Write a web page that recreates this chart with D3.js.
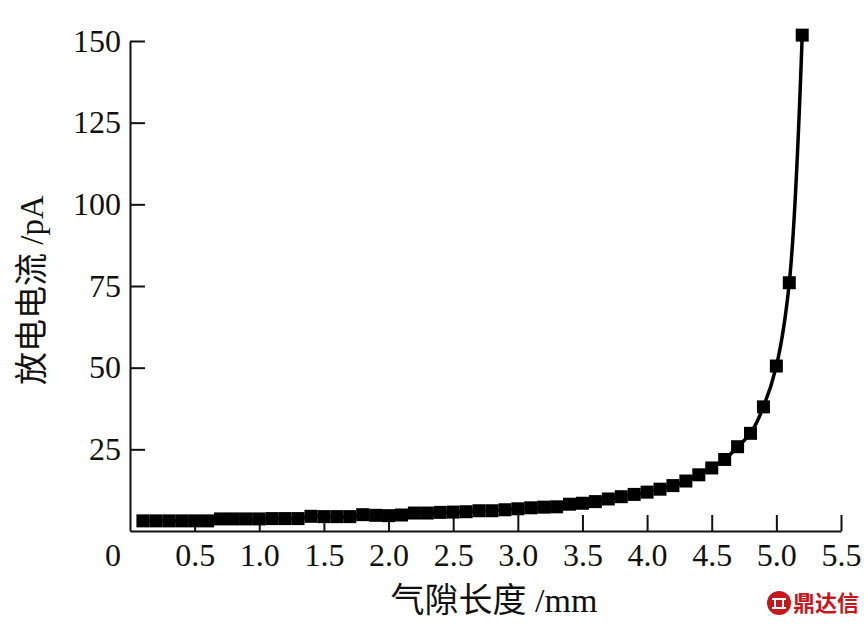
<!DOCTYPE html>
<html>
<head>
<meta charset="utf-8">
<script src="https://cdn.jsdelivr.net/npm/d3@7/dist/d3.min.js"></script>
<style>
  html, body { margin: 0; padding: 0; background: #fff; }
  svg { display: block; }
  .tick text { font-family: "Liberation Serif", "Times New Roman", serif; font-size: 32px; fill: #111; }
</style>
</head>
<body>
<svg id="chart" width="868" height="626"></svg>
<script>
// ---- data ----
const gapLength = [0.1,0.2,0.3,0.4,0.5,0.6,0.7,0.8,0.9,1.0,1.1,1.2,1.3,1.4,1.5,1.6,1.7,1.8,1.9,2.0,
  2.1,2.2,2.3,2.4,2.5,2.6,2.7,2.8,2.9,3.0,3.1,3.2,3.3,3.4,3.5,3.6,3.7,3.8,3.9,4.0,
  4.1,4.2,4.3,4.4,4.5,4.6,4.7,4.8,4.9,5.0,5.1,5.2];
const dischargeCurrent = [3.1,3.1,3.1,3.1,3.1,3.1,3.7,3.7,3.7,3.7,3.8,3.8,3.8,4.5,4.4,4.4,4.4,5.0,4.8,4.7,
  4.9,5.5,5.5,5.7,5.8,5.9,6.2,6.2,6.5,6.8,7.1,7.3,7.4,8.2,8.5,9.0,9.8,10.5,11.2,11.9,
  12.8,13.9,15.3,17.2,19.3,21.9,25.8,29.9,38.0,50.5,76.0,151.8];
const xTicks = [0.5,1.0,1.5,2.0,2.5,3.0,3.5,4.0,4.5,5.0,5.5];
const yTicks = [25,50,75,100,125,150];
const xTitle = "气隙长度 /mm";
const yTitle = "放电电流 /pA";
const watermark = "鼎达信";

const svg = d3.select("#chart");
const x = d3.scaleLinear().domain([0, 5.5]).range([130, 841]);
const y = d3.scaleLinear().domain([0, 150]).range([531, 41]);

const data = gapLength.map((g, i) => ({ g, c: dischargeCurrent[i] }));

// axes
const xAxis = svg.append("g").attr("transform", `translate(0,${y(0)})`)
  .call(d3.axisBottom(x).tickValues(xTicks).tickFormat(d3.format(".1f"))
    .tickSizeInner(-16).tickSizeOuter(0).tickPadding(12));
const yAxis = svg.append("g").attr("transform", `translate(${x(0)},0)`)
  .call(d3.axisLeft(y).tickValues(yTicks).tickFormat(d3.format("d"))
    .tickSizeInner(-15).tickSizeOuter(0).tickPadding(9));
[xAxis, yAxis].forEach(a => {
  a.select(".domain").attr("stroke", "#111").attr("stroke-width", 2);
  a.selectAll(".tick line").attr("stroke", "#111").attr("stroke-width", 2);
});
// origin label
svg.append("text").attr("x", x(0) - 17).attr("y", 566)
  .attr("text-anchor", "middle")
  .style("font-family", '"Liberation Serif", serif').style("font-size", "32px").attr("fill", "#111")
  .text("0");

// line
const line = d3.line().x(d => x(d.g)).y(d => y(d.c)).curve(d3.curveCatmullRom.alpha(0.5));
svg.append("path").datum(data).attr("d", line)
  .attr("fill", "none").attr("stroke", "#000").attr("stroke-width", 3.5);

// markers
const ms = 13;
svg.append("g").selectAll("rect").data(data).join("rect")
  .attr("x", d => x(d.g) - ms / 2).attr("y", d => y(d.c) - ms / 2)
  .attr("width", ms).attr("height", ms).attr("fill", "#000");

// titles
svg.append("text").attr("x", 494).attr("y", 612).attr("text-anchor", "middle")
  .style("font-family", '"Liberation Serif", "Noto Sans CJK SC", serif').style("font-size", "34px")
  .attr("fill", "#111").text(xTitle);
svg.append("text").attr("transform", "translate(43,290) rotate(-90)").attr("text-anchor", "middle")
  .style("font-family", '"Liberation Serif", "Noto Sans CJK SC", serif').style("font-size", "33px")
  .attr("fill", "#111").text(yTitle);

// watermark
const wm = svg.append("g").attr("transform", "translate(779,603)");
wm.append("circle").attr("r", 12).attr("fill", "#c8161d");
wm.append("path").attr("d", "M-7,-4 H7 M-4,-4 V5 M4,-4 V5 M-7,5 H7").attr("stroke", "#fff").attr("stroke-width", 2).attr("fill", "none");
svg.append("text").attr("x", 793).attr("y", 611)
  .style("font-family", '"Noto Sans CJK SC", sans-serif').style("font-size", "22px").style("font-weight", "bold")
  .attr("fill", "#c8161d").text(watermark);
</script>
</body>
</html>
